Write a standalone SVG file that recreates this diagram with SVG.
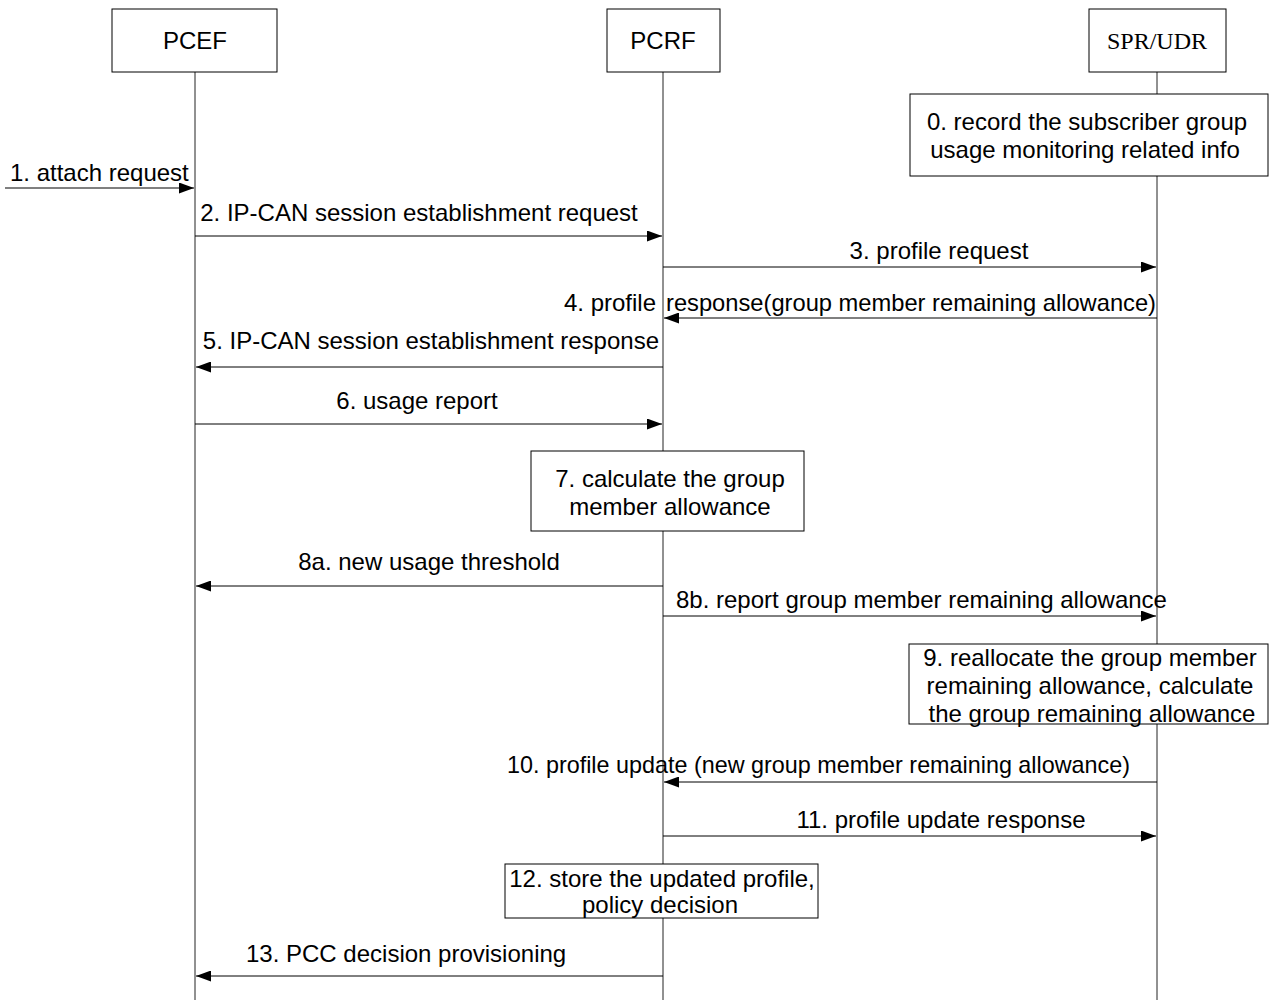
<svg xmlns="http://www.w3.org/2000/svg" width="1269" height="1000" viewBox="0 0 1269 1000">
<style>
.box{fill:#fff;stroke:#000;stroke-width:1}
.life{stroke:#222;stroke-width:1}
.msg{stroke:#000;stroke-width:1;fill:none;marker-end:url(#ah)}
text{font-family:"Liberation Sans",Arial,sans-serif;font-size:24px;fill:#000}
.serif{font-family:"Liberation Serif","Times New Roman",serif}
.mid{text-anchor:middle}
.end{text-anchor:end}
</style>
<defs>
<marker id="ah" markerWidth="15" markerHeight="11" refX="15" refY="5.5" orient="auto" markerUnits="userSpaceOnUse">
<path d="M0,0 L15,5.5 L0,11 Z" fill="#000"/>
</marker>
</defs>
<rect width="1269" height="1000" fill="#fff"/>
<g id="lifelines">
<line class="life" x1="195" y1="72" x2="195" y2="1000"/>
<line class="life" x1="663" y1="72" x2="663" y2="1000"/>
<line class="life" x1="1157" y1="72" x2="1157" y2="1000"/>
</g>
<g id="PCEF"><rect class="box" x="112" y="9" width="165" height="63"/><text class="mid" x="195" y="49">PCEF</text></g>
<g id="PCRF"><rect class="box" x="607" y="9" width="113" height="63"/><text class="mid" x="663" y="49">PCRF</text></g>
<g id="SPR"><rect class="box" x="1089" y="9" width="137" height="63"/><text class="mid serif" x="1157" y="49">SPR/UDR</text></g>
<g id="step0"><rect class="box" x="910" y="94" width="358" height="82"/><text class="mid" x="1087" y="130">0. record the subscriber group</text><text class="mid" x="1085" y="158">usage monitoring related info</text></g>
<g id="step7"><rect class="box" x="531" y="451" width="273" height="80"/><text class="mid" x="670" y="487">7. calculate the group</text><text class="mid" x="670" y="515">member allowance</text></g>
<g id="step9"><rect class="box" x="909" y="644" width="359" height="80"/><text class="mid" x="1090" y="666">9. reallocate the group member</text><text class="mid" x="1090" y="694">remaining allowance, calculate</text><text class="mid" x="1092" y="722">the group remaining allowance</text></g>
<g id="step12"><rect class="box" x="505" y="864" width="313" height="54"/><text class="mid" x="662" y="887">12. store the updated profile,</text><text class="mid" x="660" y="913">policy decision</text></g>
<g id="connectors">
<line class="msg" x1="5" y1="188" x2="194" y2="188"/>
<line class="msg" x1="195" y1="236" x2="662" y2="236"/>
<line class="msg" x1="663" y1="267" x2="1156" y2="267"/>
<line class="msg" x1="1157" y1="318" x2="664" y2="318"/>
<line class="msg" x1="663" y1="367" x2="196" y2="367"/>
<line class="msg" x1="195" y1="424" x2="662" y2="424"/>
<line class="msg" x1="663" y1="586" x2="196" y2="586"/>
<line class="msg" x1="663" y1="616" x2="1156" y2="616"/>
<line class="msg" x1="1157" y1="782" x2="664" y2="782"/>
<line class="msg" x1="663" y1="836" x2="1156" y2="836"/>
<line class="msg" x1="663" y1="976" x2="196" y2="976"/>
</g>
<g id="labels">
<text x="10" y="181">1. attach request</text>
<text class="mid" x="419" y="221">2. IP-CAN session establishment request</text>
<text class="mid" x="939" y="259">3. profile request</text>
<text x="564" y="311">4. profile <tspan x="666" textLength="490" lengthAdjust="spacingAndGlyphs">response(group member remaining allowance)</tspan></text>
<text class="end" x="659" y="349">5. IP-CAN session establishment response</text>
<text class="mid" x="417" y="409">6. usage report</text>
<text class="mid" x="429" y="570">8a. new usage threshold</text>
<text x="676" y="608">8b. report group member remaining allowance</text>
<text x="507" y="773" textLength="623" lengthAdjust="spacingAndGlyphs">10. profile update (new group member remaining allowance)</text>
<text class="mid" x="941" y="828">11. profile update response</text>
<text x="246" y="962">13. PCC decision provisioning</text>
</g>
</svg>
